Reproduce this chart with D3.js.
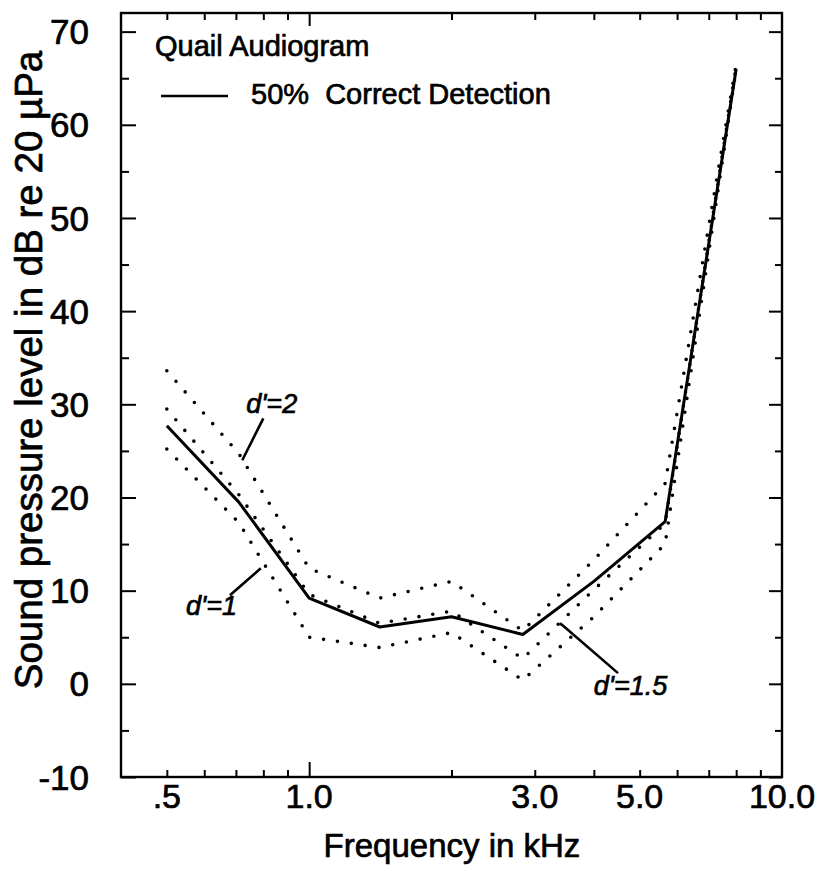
<!DOCTYPE html>
<html>
<head>
<meta charset="utf-8">
<script src="https://cdn.jsdelivr.net/npm/d3@7"></script>
<style>
  html, body { margin: 0; padding: 0; background: #fff; }
  svg text {
    font-family: "Liberation Sans", Arial, Helvetica, sans-serif;
    fill: #000;
    stroke: #000;
    stroke-width: 0.7px;
  }
</style>
</head>
<body>
<svg id="chart" width="820" height="881"></svg>
<script>
// Test frequencies (kHz), half-octave steps
const freqs = [0.5, 0.71, 1.0, 1.41, 2.0, 2.83, 4.0, 5.66, 8.0];
// Threshold, 50% correct detection (dB SPL)
const detection50 = [27.7, 19.5, 9.2, 6.1, 7.2, 5.3, 11.0, 17.4, 66.0];
// Thresholds for detectability criteria d'
const dPrime2 = [33.6, 24.7, 12.4, 9.2, 11.0, 5.7, 13.3, 21.5, 66.5];
const dPrime15 = [29.5, 20.3, 9.6, 6.5, 7.8, 2.7, 10.1, 17.2, 66.3];
const dPrime1 = [25.2, 17.3, 5.0, 3.9, 5.5, 0.4, 7.2, 15.0, 66.0];

// Axis ticks and labels
const xMinorTicks = [0.5, 0.6, 0.7, 0.8, 0.9, 2, 3, 4, 5, 6, 7, 8, 9];
const xMajorTicks = [1];
const xLabelValues = [0.5, 1, 3, 5, 10];
const xLabelText = [".5", "1.0", "3.0", "5.0", "10.0"];
const yMajorTicks = [-10, 0, 10, 20, 30, 40, 50, 60, 70];
const yMinorTicks = [-5, 5, 15, 25, 35, 45, 55, 65];

const svg = d3.select("#chart");
const plotLeft = 121, plotRight = 782, plotTop = 13, plotBottom = 777;

const x = d3.scaleLog().domain([0.4, 10]).range([plotLeft, plotRight]);
const y = d3.scaleLinear().domain([-10, 72]).range([plotBottom, plotTop]);

// Frame
svg.append("rect")
  .attr("x", plotLeft).attr("y", plotTop)
  .attr("width", plotRight - plotLeft).attr("height", plotBottom - plotTop)
  .attr("fill", "none").attr("stroke", "#000").attr("stroke-width", 2.4);

// Inward ticks on all four sides
function addAxis(axis, transform) {
  const g = svg.append("g").attr("transform", transform).call(axis);
  g.select(".domain").remove();
  g.selectAll(".tick line").attr("stroke", "#000").attr("stroke-width", 2);
  return g;
}
addAxis(d3.axisBottom(x).tickValues(xMinorTicks).tickSize(-7).tickFormat(""), `translate(0,${plotBottom})`);
addAxis(d3.axisBottom(x).tickValues(xMajorTicks).tickSize(-15).tickFormat(""), `translate(0,${plotBottom})`);
addAxis(d3.axisTop(x).tickValues(xMinorTicks).tickSize(-7).tickFormat(""), `translate(0,${plotTop})`);
addAxis(d3.axisTop(x).tickValues(xMajorTicks).tickSize(-13).tickFormat(""), `translate(0,${plotTop})`);
addAxis(d3.axisLeft(y).tickValues(yMajorTicks).tickSize(-15).tickFormat(""), `translate(${plotLeft},0)`);
addAxis(d3.axisLeft(y).tickValues(yMinorTicks).tickSize(-8).tickFormat(""), `translate(${plotLeft},0)`);
addAxis(d3.axisRight(y).tickValues(yMajorTicks).tickSize(-13).tickFormat(""), `translate(${plotRight},0)`);
addAxis(d3.axisRight(y).tickValues(yMinorTicks).tickSize(-7).tickFormat(""), `translate(${plotRight},0)`);

// Tick labels
svg.append("g").selectAll("text")
  .data(xLabelValues)
  .join("text")
  .attr("x", d => x(d))
  .attr("y", plotBottom + 31)
  .attr("text-anchor", "middle")
  .attr("font-size", 34)
  .text((d, i) => xLabelText[i]);

svg.append("g").selectAll("text")
  .data(yMajorTicks)
  .join("text")
  .attr("x", plotLeft - 32)
  .attr("y", d => y(d))
  .attr("dy", "0.36em")
  .attr("text-anchor", "end")
  .attr("font-size", 35)
  .text(d => d);

// Axis titles
svg.append("text")
  .attr("x", 452).attr("y", 857)
  .attr("text-anchor", "middle")
  .attr("font-size", 33)
  .text("Frequency in kHz");

svg.append("text")
  .attr("transform", `translate(42,370) rotate(-90)`)
  .attr("text-anchor", "middle")
  .attr("font-size", 38.5)
  .text("Sound pressure level in dB re 20 µPa");

// Curves
const line = d3.line()
  .x(d => x(d[0]))
  .y(d => y(d[1]));

const dotted = [dPrime2, dPrime15, dPrime1];
svg.append("g").selectAll("path")
  .data(dotted)
  .join("path")
  .attr("d", s => line(freqs.map((f, i) => [f, s[i]])))
  .attr("fill", "none")
  .attr("stroke", "#000")
  .attr("stroke-width", 3.6)
  .attr("stroke-linecap", "round")
  .attr("stroke-dasharray", "0 14");

svg.append("path")
  .attr("d", line(freqs.map((f, i) => [f, detection50[i]])))
  .attr("fill", "none")
  .attr("stroke", "#000")
  .attr("stroke-width", 3)
  .attr("stroke-linejoin", "round");

// Title and legend
svg.append("text")
  .attr("x", 155).attr("y", 56)
  .attr("font-size", 29)
  .text("Quail Audiogram");

svg.append("line")
  .attr("x1", 161).attr("x2", 228)
  .attr("y1", 96).attr("y2", 96)
  .attr("stroke", "#000").attr("stroke-width", 2.6);

svg.append("text")
  .attr("x", 251).attr("y", 104)
  .attr("font-size", 29)
  .style("white-space", "pre")
  .text("50%  Correct Detection");

// d' annotations placed in data coordinates (kHz, dB)
const annotations = [
  { text: "d'=2", at: [0.736, 29.1], path: [[0.80, 28.5], [0.722, 24.0]] },
  { text: "d'=1", at: [0.549, 7.4], path: [[0.68, 9.5], [0.79, 12.4]] },
  { text: "d'=1.5", at: [4.0, -1.2], path: [[3.39, 6.5], [3.43, 6.3], [4.5, 1.15]] }
];
const ann = svg.append("g");
annotations.forEach(a => {
  ann.append("path")
    .attr("d", line(a.path))
    .attr("fill", "none")
    .attr("stroke", "#000")
    .attr("stroke-width", 2.6);
  ann.append("text")
    .attr("x", x(a.at[0])).attr("y", y(a.at[1]))
    .attr("font-size", 27)
    .attr("font-style", "italic")
    .text(a.text);
});
</script>
</body>
</html>
